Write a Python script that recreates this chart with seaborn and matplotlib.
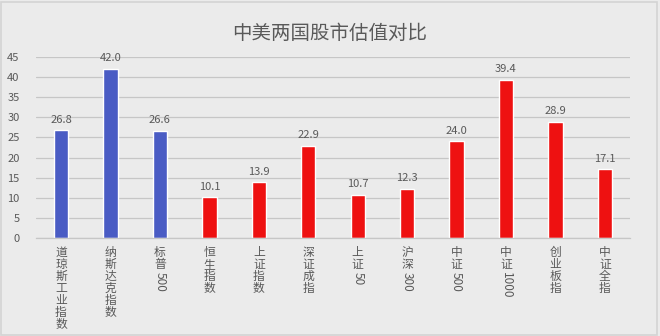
import re
import matplotlib
matplotlib.use("Agg")
import matplotlib.pyplot as plt
import seaborn as sns
import pandas as pd
from matplotlib.patches import Rectangle

# ---- data ----
categories = ["道琼斯工业指数", "纳斯达克指数", "标普500", "恒生指数", "上证指数", "深证成指",
              "上证50", "沪深300", "中证500", "中证1000", "创业板指", "中证全指"]
values = [26.8, 42.0, 26.6, 10.1, 13.9, 22.9, 10.7, 12.3, 24.0, 39.4, 28.9, 17.1]
markets = ["美国", "美国", "美国", "中国", "中国", "中国", "中国", "中国", "中国", "中国", "中国", "中国"]
title = "中美两国股市估值对比"
yticks = [0, 5, 10, 15, 20, 25, 30, 35, 40, 45]

sns.set_theme(style="white")
plt.rcParams["font.family"] = ["Noto Sans CJK SC", "DejaVu Sans"]

BG = "#ebebeb"
TXT = "#595959"
colors = {"美国": "#4a5cc4", "中国": "#ee1111"}

df = pd.DataFrame({"cat": categories, "val": values, "mkt": markets})

fig = plt.figure(figsize=(6.6, 3.36), dpi=100, facecolor=BG)
ax = fig.add_axes([0.055, 0.2917, 0.899, 0.5387], facecolor=BG)

sns.barplot(data=df, x="cat", y="val", hue="mkt", palette=colors, dodge=False,
            width=0.29, legend=False, ax=ax, saturation=1)

ax.set_ylim(0, 45)
ax.set_xlim(-0.5, len(categories) - 0.5)
ax.set_yticks(yticks)
ax.set_yticklabels([str(t) for t in yticks], fontsize=8, color=TXT)
ax.tick_params(axis="y", length=0, pad=12)
ax.yaxis.grid(True, color="#c6c6c6", linewidth=0.9)
ax.set_axisbelow(True)
for s in ["top", "right", "left"]:
    ax.spines[s].set_visible(False)
ax.spines["bottom"].set_color("#c6c6c6")
ax.spines["bottom"].set_linewidth(0.9)
ax.set_xlabel("")
ax.set_ylabel("")
ax.set_xticks(range(len(categories)))
ax.set_xticklabels([])
ax.tick_params(axis="x", length=0)

for c in ax.containers:
    ax.bar_label(c, fmt="%.1f", padding=4, fontsize=8, color=TXT)

# vertical labels: CJK chars stacked, digits rotated below
cjk_texts = []
for i, lab in enumerate(categories):
    m = re.match(r"^(\D*)(\d*)$", lab)
    cjk, digits = m.group(1), m.group(2)
    t = ax.annotate("\n".join(cjk), xy=(i, 0), xycoords=("data", "axes fraction"),
                    xytext=(0, -8), textcoords="offset pixels",
                    ha="center", va="top", fontsize=8.5, color=TXT,
                    linespacing=0.9, multialignment="center")
    cjk_texts.append((i, t, digits))

fig.canvas.draw()
renderer = fig.canvas.get_renderer()
axis_y = ax.transAxes.transform((0, 0))[1]
for i, t, digits in cjk_texts:
    if digits:
        bb = t.get_window_extent(renderer)
        off = axis_y - bb.y0 + 1
        ax.annotate(digits, xy=(i, 0), xycoords=("data", "axes fraction"),
                    xytext=(0, -off), textcoords="offset pixels",
                    ha="center", va="top", rotation=270, fontsize=8.5, color=TXT)

fig.text(0.5, 0.899, title, ha="center", va="center", fontsize=14, color=TXT)

fig.patches.append(Rectangle((0.002, 0.003), 0.993, 0.991, transform=fig.transFigure,
                             fill=False, edgecolor="#d4d4d4", linewidth=1.2))

fig.savefig("out.png", dpi=100, facecolor=BG)
